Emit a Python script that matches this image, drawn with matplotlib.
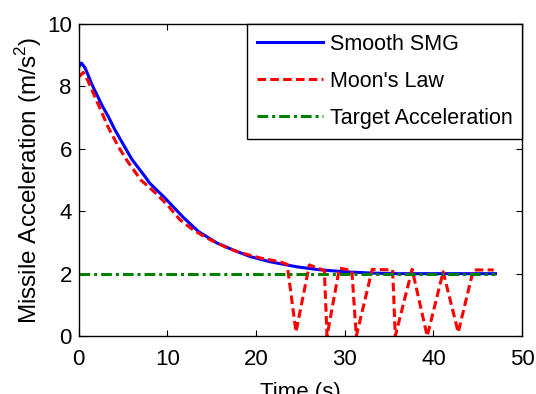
import matplotlib
matplotlib.use("Agg")
import matplotlib.pyplot as plt

# Smooth SMG guidance command
t_smg = [0, 0.3, 0.7, 1.0, 1.5, 2.1, 2.7, 3.3, 4.0, 4.9, 6.0, 7.5, 8.0, 9.7,
         11.8, 13.5, 15.6, 17.5, 19.3, 21.6, 24.6, 27.0, 30.0, 33.0, 36.0, 47.0]
a_smg = [8.62, 8.75, 8.6, 8.4, 8.05, 7.7, 7.35, 7.05, 6.65, 6.2, 5.66, 5.1, 4.9, 4.43,
         3.8, 3.35, 2.98, 2.75, 2.55, 2.38, 2.22, 2.13, 2.06, 2.02, 2.0, 2.0]

# Moon's law (chattering near the end)
t_moon = [0, 0.5, 1.0, 2.0, 3.3, 4.5, 5.5, 7.0, 8.6, 10.0, 11.4, 13.0, 14.8, 16.5,
          17.9, 20.5, 22.7, 23.5, 24.5, 26.0, 27.7, 28.0, 29.4, 30.8, 31.3, 33.1,
          35.4, 35.7, 37.6, 39.3, 41.1, 42.8, 44.5, 46.8]
a_moon = [8.3, 8.45, 8.2, 7.55, 6.7, 6.05, 5.6, 5.0, 4.6, 4.2, 3.73, 3.38, 3.09, 2.86,
          2.7, 2.5, 2.38, 2.3, 0.13, 2.28, 2.1, 0.0, 2.18, 2.1, 0.0, 2.14,
          2.12, 0.0, 2.14, 0.0, 2.06, 0.12, 2.12, 2.12]

# Target acceleration
t_tgt = [0, 47.0]
a_tgt = [2.0, 2.0]

plt.rcParams['font.family'] = ['Liberation Sans', 'DejaVu Sans']
plt.rcParams['mathtext.fontset'] = 'custom'
plt.rcParams['mathtext.rm'] = 'Liberation Sans'

fig = plt.figure(figsize=(5.36, 3.94), dpi=100)
ax = fig.add_axes([0.147, 0.147, 0.827, 0.792])

ax.plot(t_smg, a_smg, color=(0, 0, 1), lw=2.2, label='Smooth SMG')
ax.plot(t_moon, a_moon, color=(1, 0, 0), lw=2.2, dashes=(2.8, 1.4), label="Moon's Law")
ax.plot(t_tgt, a_tgt, color=(0, 0.5, 0), lw=2.2, dashes=(3.5, 1.3, 1.0, 1.3),
        label='Target Acceleration')

ax.set_xlim(0, 50)
ax.set_ylim(0, 10)
ax.set_xticks([0, 10, 20, 30, 40, 50])
ax.set_yticks([0, 2, 4, 6, 8, 10])
ax.tick_params(direction='in', top=True, right=True, length=4, width=0.8,
               labelsize=16)
ax.tick_params(axis='x', pad=9)
ax.tick_params(axis='y', pad=5)
for s in ax.spines.values():
    s.set_linewidth(1.0)

ax.set_xlabel('Time (s)', fontsize=16, labelpad=9)
ax.set_ylabel('Missile Acceleration (m/s$^2$)', fontsize=17.5, labelpad=2)

leg = ax.legend(loc='upper right', bbox_to_anchor=(1, 1), borderaxespad=0,
                fancybox=False, framealpha=1, edgecolor='black', fontsize=15.5,
                handlelength=3.05, handletextpad=0.33, labelspacing=0.75,
                borderpad=0.45)
leg.get_frame().set_linewidth(1.0)

fig.savefig('out.png', dpi=100)
